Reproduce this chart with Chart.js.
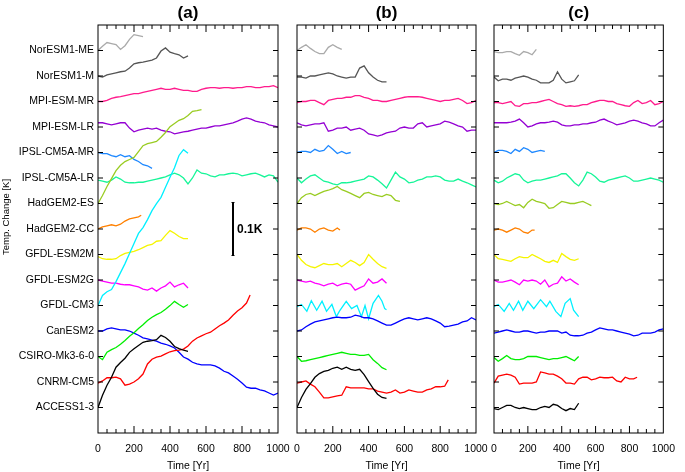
<!DOCTYPE html>
<html><head><meta charset="utf-8">
<script src="https://cdn.jsdelivr.net/npm/chart.js@4.4.1/dist/chart.umd.min.js"></script>
<style>
html,body{margin:0;padding:0;background:#fff;width:685px;height:472px;overflow:hidden}
#wrap{position:relative;width:685px;height:472px}
canvas{position:absolute;left:0;top:0}
</style></head>
<body><div id="wrap">
<canvas id="ca" width="685" height="472"></canvas>
<canvas id="cb" width="685" height="472"></canvas>
<canvas id="cc" width="685" height="472"></canvas>
</div>
<script>
// ---- categories (bottom to top) ----
const ROWS = ['ACCESS1-3','CNRM-CM5','CSIRO-Mk3-6-0','CanESM2','GFDL-CM3','GFDL-ESM2G','GFDL-ESM2M','HadGEM2-CC','HadGEM2-ES','IPSL-CM5A-LR','IPSL-CM5A-MR','MPI-ESM-LR','MPI-ESM-MR','NorESM1-M','NorESM1-ME'];
const RUN_YEARS = [500,845,500,1000,500,500,500,240,575,1000,300,1000,1000,500,250];
const X_TICKS = [0,200,400,600,800,1000];
const PANEL_LABELS = ['(a)','(b)','(c)'];
const STEP_YEARS = 25;          // sampling step of the series (years)
const K_PER_ROW = 0.0481;       // vertical offset between rows, in K
const SCALE_BAR_K = 0.1;
// ---- temperature anomalies in mK, sampled every 25 yr ----
// panel (a)
const A_ACCESS = [0,23,42,57,76,85,93,104,111,117,123,125,126,128,136,132,125,115,111,108,106];
const A_CNRM = [-2,2,8,8,9,6,-6,-4,0,6,15,34,43,47,49,53,57,59,60,62,68,77,83,87,91,94,100,106,111,117,126,134,140,149,164];
const A_CSIRO = [0,-6,8,13,17,23,30,38,45,53,60,68,74,79,83,89,96,104,98,93,98];
const A_CANESM2 = [0,0,4,6,4,2,2,0,-4,-8,-13,-15,-17,-19,-23,-25,-28,-32,-40,-49,-53,-59,-62,-64,-64,-64,-66,-70,-76,-79,-85,-91,-98,-106,-108,-108,-111,-113,-117,-121,-117];
const A_CM3 = [0,19,26,30,45,62,79,98,117,136,147,162,179,192,204,223,242,260,283,294,287];
const A_ESM2G = [0,-2,-4,-6,-6,-8,-9,-9,-11,-13,-17,-19,-15,-21,-15,-11,-4,-13,-9,-6,-15];
const A_ESM2M = [-4,-8,-9,-9,-8,-2,2,4,6,9,13,17,19,25,26,36,45,40,34,30,30];
const A_HADCC = [0,4,6,8,6,9,15,19,21,23,26];
const A_HADES = [0,15,32,47,62,72,79,83,87,98,109,113,115,117,125,134,145,151,157,160,166,174,175,177];
const A_IPSLLR = [-4,-6,-8,-4,2,-2,-8,-9,-9,-8,-8,-6,-4,-2,0,2,6,9,6,0,-11,0,15,9,8,4,2,6,6,8,9,8,4,6,8,9,6,2,6,4,-8];
const A_IPSLMR = [0,-2,-2,-6,-8,-4,-8,-6,-13,-17,-23,-25,-30];
const A_MPILR = [8,8,6,4,6,8,8,-2,-9,-6,-4,-2,-4,-2,-6,-8,-9,-13,-11,-9,-8,-6,-4,-2,-2,0,2,2,4,6,8,11,15,17,15,11,9,8,4,2,0];
const A_MPIMR = [0,0,2,6,8,9,11,13,15,15,17,19,21,23,25,23,23,25,23,21,21,19,19,23,25,26,26,25,26,26,25,26,26,28,28,26,26,28,28,30,26];
const A_NORM = [0,-2,2,4,6,8,9,15,23,25,26,28,30,34,47,53,45,42,40,34,38];
const A_NORME = [0,8,15,13,11,2,9,21,30,28,26];
// panel (b)
const B_ACCESS = [0,19,34,45,57,64,68,70,74,76,72,76,72,70,72,62,49,36,25,19,17];
const B_CNRM = [-2,0,2,-4,-9,-19,-30,-30,-28,-26,-25,-9,-11,-11,-11,-11,-13,-13,-17,-19,-21,-19,-15,-21,-19,-15,-17,-19,-19,-15,-13,-9,-9,-8,4];
const B_CSIRO = [0,-9,-8,-6,-4,-2,0,2,4,6,8,6,4,4,2,2,4,-6,-13,-21,-25];
const B_CANESM2 = [0,2,8,13,17,19,21,23,25,26,25,25,26,30,28,25,25,23,19,15,11,11,15,19,23,25,23,21,23,25,23,19,15,8,9,11,13,17,19,25,21];
const B_CM3 = [-2,2,-11,9,-9,8,-11,2,-21,-9,8,-6,0,-21,0,-25,4,19,8,-6,-8];
const B_CM3_YEARS = [0,25,55,80,110,140,165,195,220,240,275,305,335,360,380,400,425,455,475,490,500];
const B_ESM2G = [0,-2,-4,-2,-6,-8,-11,-8,-6,-11,-8,-6,-8,-19,-15,-11,2,-6,-4,2,-6];
const B_ESM2M = [0,-11,-19,-23,-25,-21,-17,-19,-19,-17,-23,-17,-11,-15,-21,-15,0,-9,-17,-23,-26];
const B_HADCC = [-2,2,2,0,-6,0,2,-2,-4,2,-2];
const B_HADES = [0,11,17,19,15,19,23,25,28,32,26,23,19,15,11,19,21,17,15,13,17,15,6,4];
const B_IPSLLR = [0,-9,-2,4,6,0,-6,-8,-11,-13,-9,-9,-8,-6,-4,-2,4,2,-4,-11,-19,-4,11,2,-2,-9,-8,-4,-2,2,2,4,2,-4,-6,-6,-2,-6,-9,-13,-17];
const B_IPSLMR = [0,2,2,0,6,2,4,13,6,-2,2,-2,0];
const B_MPILR = [8,4,2,4,6,6,8,-8,-6,-2,-2,0,-6,-4,-2,-6,-13,-15,-17,-15,-11,-9,-8,-2,0,-2,-2,6,8,0,2,4,6,11,9,6,2,0,-8,-6,-6];
const B_MPIMR = [-2,0,0,2,2,-2,-6,2,4,6,6,8,8,11,11,8,6,2,2,0,0,2,4,6,8,9,9,9,8,6,4,2,0,2,2,4,6,2,-4,-2,2];
const B_NORM = [-2,-2,-4,0,0,2,4,6,4,0,-2,-4,-2,-2,15,19,6,-2,-8,-11,-11];
const B_NORME = [0,6,11,4,-2,-6,-6,6,11,6,2];
// panel (c)
const C_ACCESS = [-2,-4,0,4,4,0,-2,0,-2,-4,-4,0,2,0,6,4,-2,-6,-2,-4,8];
const C_CNRM = [-2,11,13,15,13,9,-4,-2,-2,-2,0,19,17,15,15,11,6,-2,-2,-4,6,9,9,4,6,9,8,8,9,2,0,9,6,6,9];
const C_CSIRO = [-2,-9,-4,2,-4,-6,-6,-4,0,0,0,-2,-4,-6,-4,-4,-2,0,-4,-8,0];
const C_CANESM2 = [-4,-2,0,2,0,-2,-2,0,0,-2,-4,-2,-2,0,0,0,-4,-2,-8,-9,-9,-8,-4,-2,2,6,4,2,2,0,-2,-4,-6,-9,-8,-4,-4,-4,-2,2,4];
const C_CM3 = [-2,2,-11,4,-9,8,-9,8,-6,11,-2,8,-11,-21,4,13,-9,-21];
const C_CM3_YEARS = [0,25,60,90,115,145,170,200,235,275,310,330,365,395,420,450,470,500];
const C_ESM2G = [0,-4,-4,-2,0,-4,-9,0,-2,0,-2,-8,0,-13,-8,-6,6,-2,2,-4,-9];
const C_ESM2M = [0,-8,-9,-11,-13,-8,-4,-6,-6,0,-4,-8,-13,-15,-11,-15,2,-4,-9,-11,-8];
const C_HADCC = [-2,0,-2,-6,-2,2,0,-6,-8,-2,-2];
const C_HADES = [0,-2,0,4,0,-4,-2,-8,2,8,4,2,0,-9,-8,-2,4,2,0,0,2,4,0,-4];
const C_IPSLLR = [-4,-9,-6,0,4,8,6,-4,-9,-6,-4,-4,-2,0,2,4,8,8,0,-9,-15,-4,11,8,2,-6,-8,-4,-2,0,2,4,0,-6,-6,-4,-2,0,-2,-4,-8];
const C_IPSLMR = [0,4,4,2,-2,6,2,9,6,0,2,4,2];
const C_MPILR = [8,8,8,8,9,11,15,8,0,2,6,8,8,9,11,9,4,2,2,4,4,6,6,8,9,13,15,11,8,4,6,8,11,13,11,8,6,2,2,8,13];
const C_MPIMR = [-2,-2,-4,-2,0,-8,-9,-4,-4,-2,-2,0,2,4,0,-4,-6,-9,-8,-9,-8,-6,-6,-2,0,2,2,0,0,-4,-6,-8,-9,-2,2,-4,-2,2,-6,-4,0];
const C_NORM = [-2,-9,-6,-6,-8,-4,-2,0,-2,-6,-8,-13,-13,-13,-8,8,-6,-13,-11,-9,2];
const C_NORME = [-2,-4,-4,-2,-2,-6,-9,-2,-4,-8,2];

// ---- styles / layout ----
const COLORS = ['#000000','#ff0000','#00ee00','#0000ff','#00f0ff','#ff00ff','#f5f500','#ff8000','#99cc22','#16f598','#1e88ff','#9400d3','#ff1a8c','#555555','#aaaaaa'];
const FONT = '"Liberation Sans", Arial, Helvetica, sans-serif';
const PANEL_BOX = [{left:98,right:278},{left:297,right:476},{left:494,right:674}];
const TOP = 25, X_AXIS_H = 39;

const PANELS = [
  {series:[A_ACCESS,A_CNRM,A_CSIRO,A_CANESM2,A_CM3,A_ESM2G,A_ESM2M,A_HADCC,A_HADES,A_IPSLLR,A_IPSLMR,A_MPILR,A_MPIMR,A_NORM,A_NORME], years:{}},
  {series:[B_ACCESS,B_CNRM,B_CSIRO,B_CANESM2,B_CM3,B_ESM2G,B_ESM2M,B_HADCC,B_HADES,B_IPSLLR,B_IPSLMR,B_MPILR,B_MPIMR,B_NORM,B_NORME], years:{4:B_CM3_YEARS}},
  {series:[C_ACCESS,C_CNRM,C_CSIRO,C_CANESM2,C_CM3,C_ESM2G,C_ESM2M,C_HADCC,C_HADES,C_IPSLLR,C_IPSLMR,C_MPILR,C_MPIMR,C_NORM,C_NORME], years:{4:C_CM3_YEARS}}
];

function makeDatasets(p){
  return p.series.map((vals, r) => {
    const yrs = p.years[r] || vals.map((_, i) => Math.min(i * STEP_YEARS, RUN_YEARS[r]));
    return {
      label: ROWS[r],
      data: vals.map((v, i) => ({x: yrs[i], y: (r + 1) + v / 1000 / K_PER_ROW})),
      borderColor: COLORS[r], borderWidth: 1.3, pointRadius: 0, fill: false, tension: 0
    };
  });
}

function framePlugin(idx){
  return {
    id: 'frame' + idx,
    afterDraw(chart){
      const {ctx, chartArea: a, scales: {x, y}} = chart;
      ctx.save();
      ctx.strokeStyle = '#000'; ctx.lineWidth = 1;
      ctx.strokeRect(a.left, a.top, a.right - a.left, a.bottom - a.top);
      ctx.beginPath();
      for (let t = 50; t < 1000; t += 50) {
        const px = x.getPixelForValue(t);
        const len = (t % 200 === 0) ? 7 : 4;
        ctx.moveTo(px, a.bottom); ctx.lineTo(px, a.bottom - len);
        ctx.moveTo(px, a.top); ctx.lineTo(px, a.top + len);
      }
      for (let r = 1; r <= ROWS.length; r++) {
        const py = y.getPixelForValue(r);
        ctx.moveTo(a.left, py); ctx.lineTo(a.left + 5, py);
        ctx.moveTo(a.right, py); ctx.lineTo(a.right - 5, py);
      }
      ctx.stroke();
      ctx.fillStyle = '#000';
      ctx.font = 'bold 17px ' + FONT;
      ctx.textAlign = 'center'; ctx.textBaseline = 'middle';
      ctx.fillText(PANEL_LABELS[idx], (a.left + a.right) / 2, 13);
      if (idx === 0) {
        // scale bar 0.1 K centred on the HadGEM2-CC row
        const bx = x.getPixelForValue(750);
        const half = SCALE_BAR_K / 2 / K_PER_ROW;
        const y1 = y.getPixelForValue(8 + half), y2 = y.getPixelForValue(8 - half);
        ctx.lineWidth = 2;
        ctx.beginPath(); ctx.moveTo(bx, y1); ctx.lineTo(bx, y2); ctx.stroke();
        ctx.lineWidth = 1;
        ctx.beginPath(); ctx.moveTo(bx - 1.5, y1); ctx.lineTo(bx + 1.5, y1); ctx.moveTo(bx - 1.5, y2); ctx.lineTo(bx + 1.5, y2); ctx.stroke();
        ctx.font = 'bold 12px ' + FONT;
        ctx.textAlign = 'left';
        ctx.fillText('0.1K', bx + 4, (y1 + y2) / 2 + 1);
        // y title
        ctx.font = '9.5px ' + FONT;
        ctx.translate(6, 217); ctx.rotate(-Math.PI / 2);
        ctx.textAlign = 'center';
        ctx.fillText('Temp. Change [K]', 0, 0);
      }
      ctx.restore();
    }
  };
}

function makeChart(id, idx){
  const box = PANEL_BOX[idx];
  const first = idx === 0;
  return new Chart(document.getElementById(id), {
    type: 'line',
    data: {datasets: makeDatasets(PANELS[idx])},
    options: {
      responsive: false, animation: false,
      layout: {padding: {left: 0, right: 685 - box.right, top: TOP, bottom: 0}},
      plugins: {legend: {display: false}, tooltip: {enabled: false}, title: {display: false}},
      scales: {
        x: {
          type: 'linear', min: 0, max: 1000,
          afterBuildTicks: s => { s.ticks = X_TICKS.map(v => ({value: v})); },
          ticks: {autoSkip: false, maxRotation: 0, minRotation: 0, color: '#000', padding: 10,
                  font: {family: FONT, size: 10.5}, callback: v => String(v)},
          grid: {display: false, drawTicks: false},
          border: {display: false},
          title: {display: true, text: 'Time [Yr]', color: '#000', font: {family: FONT, size: 10.5}, padding: {top: 0, bottom: 0}},
          afterFit: s => { s.height = X_AXIS_H; }
        },
        y: {
          type: 'linear', min: 0, max: ROWS.length + 1, display: true,
          afterBuildTicks: s => { s.ticks = ROWS.map((_, i) => ({value: i + 1})); },
          ticks: {display: first, autoSkip: false, color: '#000', padding: 4, font: {family: FONT, size: 10.5},
                  callback: v => ROWS[v - 1] || ''},
          grid: {display: false, drawTicks: false},
          border: {display: false},
          afterFit: s => { s.width = box.left; }
        }
      }
    },
    plugins: [framePlugin(idx)]
  });
}

makeChart('ca', 0);
makeChart('cb', 1);
makeChart('cc', 2);
</script>
</body></html>
